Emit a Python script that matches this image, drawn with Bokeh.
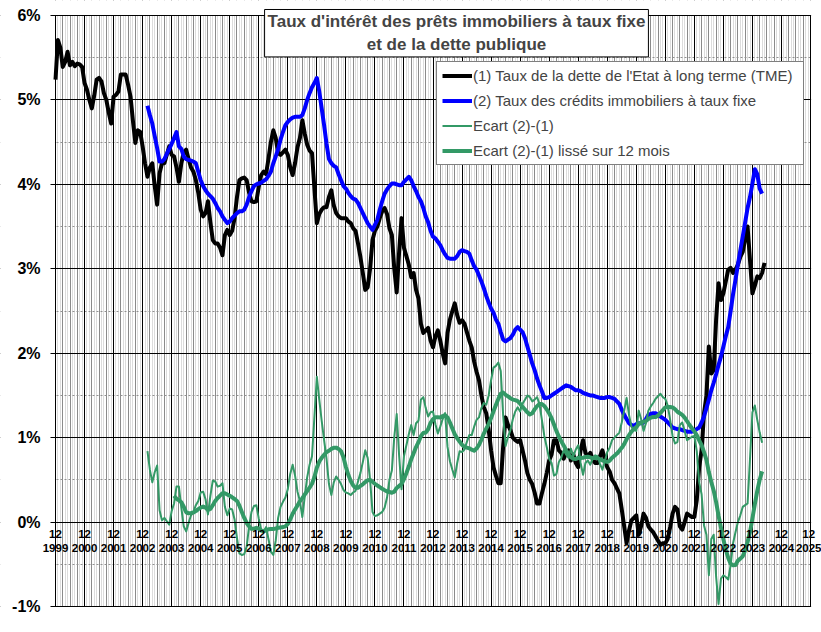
import pandas as pd
from bokeh.plotting import figure
from bokeh.models import (FixedTicker, Grid, Legend, LegendItem, Label, BoxAnnotation,
                          CustomJSTickFormatter)
from bokeh.embed import file_html
from bokeh.resources import INLINE

# ---------------- data (monthly, month index 0 = Dec 1999) ----------------
years = list(range(1999, 2026))
tick_month = ["12"] * len(years)

TME_START = 0      # Dec 1999
tme = [
    5.24,
    5.71, 5.62, 5.39, 5.45, 5.57, 5.41, 5.45, 5.40, 5.43, 5.42, 5.39, 5.20,  # 2000
    5.12, 5.00, 4.90, 5.05, 5.24, 5.26, 5.22, 5.08, 5.00, 4.85, 4.72, 5.04,  # 2001
    5.06, 5.10, 5.30, 5.30, 5.30, 5.18, 5.04, 4.75, 4.49, 4.64, 4.62, 4.45,  # 2002
    4.25, 4.09, 4.20, 4.25, 3.98, 3.76, 4.13, 4.25, 4.25, 4.35, 4.45, 4.35,  # 2003
    4.33, 4.20, 4.03, 4.25, 4.38, 4.41, 4.30, 4.20, 4.15, 4.05, 3.90, 3.70,  # 2004
    3.62, 3.66, 3.80, 3.55, 3.34, 3.30, 3.30, 3.25, 3.16, 3.40, 3.46, 3.40,  # 2005
    3.45, 3.60, 3.85, 4.05, 4.07, 4.08, 4.05, 3.90, 3.80, 3.79, 3.80, 3.97,  # 2006
    4.11, 4.15, 4.12, 4.30, 4.50, 4.64, 4.55, 4.37, 4.35, 4.38, 4.41, 4.35,  # 2007
    4.20, 4.11, 4.25, 4.44, 4.55, 4.76, 4.60, 4.47, 4.40, 4.37, 3.95, 3.54,  # 2008
    3.65, 3.70, 3.73, 3.73, 3.85, 3.93, 3.75, 3.66, 3.62, 3.60, 3.60, 3.60,  # 2009
    3.56, 3.54, 3.48, 3.45, 3.30, 3.14, 2.95, 2.75, 2.78, 3.00, 3.34, 3.45,  # 2010
    3.50, 3.60, 3.68, 3.72, 3.65, 3.48, 3.40, 3.00, 2.72, 3.20, 3.60, 3.25,  # 2011
    3.15, 3.05, 2.90, 2.95, 2.75, 2.65, 2.35, 2.24, 2.27, 2.30, 2.15, 2.07,  # 2012
    2.20, 2.27, 2.15, 2.00, 1.88, 2.24, 2.40, 2.50, 2.59, 2.45, 2.36, 2.39,  # 2013
    2.35, 2.25, 2.15, 2.07, 1.90, 1.78, 1.68, 1.50, 1.36, 1.29, 1.10, 0.85,  # 2014
    0.65, 0.55, 0.46, 0.46, 0.90, 1.24, 1.15, 1.09, 1.00, 0.97, 0.95, 0.97,  # 2015
    0.85, 0.73, 0.58, 0.50, 0.45, 0.35, 0.22, 0.22, 0.34, 0.45, 0.58, 0.73,  # 2016
    0.80, 0.97, 0.97, 0.85, 0.82, 0.75, 0.82, 0.85, 0.73, 0.80, 0.70, 0.65,  # 2017
    0.85, 0.97, 0.82, 0.78, 0.82, 0.75, 0.70, 0.70, 0.78, 0.85, 0.75, 0.65,  # 2018
    0.60, 0.50, 0.46, 0.40, 0.34, 0.15, -0.05, -0.25, -0.10, 0.02, 0.05, 0.08,  # 2019
    -0.15, -0.05, 0.10, 0.05, -0.05, -0.09, -0.12, -0.17, -0.22, -0.27, -0.25, -0.25,  # 2020
    -0.20, -0.06, 0.10, 0.18, 0.15, -0.05, -0.09, 0.00, 0.10, 0.08, 0.06, 0.06,  # 2021
    0.26, 0.65, 0.85, 1.29, 1.50, 2.08, 1.76, 1.80, 2.40, 2.83, 2.63, 2.71,  # 2022
    2.85, 2.99, 3.01, 2.95, 2.99, 3.05, 3.14, 3.20, 3.35, 3.50, 3.10, 2.71,  # 2023
    2.80, 2.91, 2.89, 2.95, 3.07,                                            # 2024
]

CREDIT_START = 38  # Feb 2003
credit = [
    4.93, 4.82, 4.72, 4.57, 4.43, 4.27, 4.27, 4.30, 4.36, 4.42, 4.48,        # 2003
    4.55, 4.62, 4.45, 4.42, 4.33, 4.30, 4.29, 4.28, 4.27, 4.25, 4.15, 4.05,  # 2004
    3.98, 3.93, 3.89, 3.86, 3.83, 3.78, 3.72, 3.68, 3.62, 3.58, 3.54, 3.56,  # 2005
    3.60, 3.63, 3.66, 3.68, 3.68, 3.70, 3.76, 3.85, 3.92, 3.98, 4.00, 4.01,  # 2006
    4.02, 4.04, 4.06, 4.10, 4.15, 4.25, 4.33, 4.42, 4.53, 4.62, 4.70, 4.74,  # 2007
    4.77, 4.79, 4.80, 4.80, 4.80, 4.82, 4.90, 5.00, 5.08, 5.15, 5.20, 5.26,  # 2008
    5.10, 4.90, 4.70, 4.48, 4.30, 4.25, 4.22, 4.20, 4.12, 4.05, 3.98, 3.95,  # 2009
    3.90, 3.86, 3.83, 3.82, 3.78, 3.72, 3.66, 3.60, 3.54, 3.50, 3.46, 3.52,  # 2010
    3.58, 3.70, 3.80, 3.89, 3.94, 3.98, 4.01, 4.01, 4.00, 3.99, 3.99, 4.03,  # 2011
    4.06, 4.09, 4.05, 3.98, 3.92, 3.85, 3.80, 3.72, 3.62, 3.55, 3.45, 3.38,  # 2012
    3.36, 3.32, 3.28, 3.22, 3.17, 3.13, 3.12, 3.12, 3.12, 3.15, 3.20, 3.22,  # 2013
    3.21, 3.20, 3.18, 3.10, 3.03, 2.99, 2.92, 2.85, 2.77, 2.68, 2.60, 2.53,  # 2014
    2.48, 2.40, 2.35, 2.25, 2.16, 2.14, 2.16, 2.18, 2.22, 2.28, 2.31, 2.28,  # 2015
    2.25, 2.18, 2.08, 1.98, 1.88, 1.80, 1.70, 1.62, 1.55, 1.47, 1.47, 1.48,  # 2016
    1.50, 1.52, 1.54, 1.56, 1.58, 1.60, 1.62, 1.61, 1.60, 1.58, 1.56, 1.56,  # 2017
    1.55, 1.53, 1.52, 1.51, 1.50, 1.50, 1.49, 1.48, 1.47, 1.47, 1.47, 1.48,  # 2018
    1.48, 1.47, 1.46, 1.43, 1.40, 1.33, 1.27, 1.22, 1.17, 1.15, 1.14, 1.16,  # 2019
    1.17, 1.17, 1.18, 1.22, 1.27, 1.28, 1.29, 1.29, 1.27, 1.25, 1.23, 1.21,  # 2020
    1.18, 1.15, 1.12, 1.11, 1.10, 1.10, 1.09, 1.08, 1.07, 1.07, 1.07, 1.08,  # 2021
    1.10, 1.12, 1.18, 1.25, 1.35, 1.45, 1.56, 1.65, 1.75, 1.86, 1.96, 2.08,  # 2022
    2.20, 2.31, 2.50, 2.70, 2.87, 3.05, 3.22, 3.38, 3.55, 3.72, 3.85, 4.01,  # 2023
    4.18, 4.12, 3.95, 3.89,                                                  # 2024
]

labels = [
    "(1) Taux de la dette de l'Etat à long terme (TME)",
    "(2) Taux des crédits immobiliers à taux fixe",
    "Ecart (2)-(1)",
    "Ecart (2)-(1) lissé sur 12 mois",
]
title_text = "Taux d'intérêt des prêts immobiliers à taux fixe\net de la dette publique"
y_ticks = list(range(-1, 7))

# ---------------- derived series (as defined by the legend) ----------------
s_tme = pd.Series(tme, index=range(TME_START, TME_START + len(tme)))
s_cr = pd.Series(credit, index=range(CREDIT_START, CREDIT_START + len(credit)))
ecart = (s_cr - s_tme.reindex(s_cr.index)).dropna()
lisse = ecart.rolling(12).mean().dropna()

n_months = (years[-1] - years[0]) * 12

# ---------------- geometry (pixels of the 821x632 page) ----------------
W, H = 821, 632
X0 = 55            # pixel of Dec 1999
PLOT_W = 755       # pixels from Dec 1999 to Dec 2025
Y_BOTTOM = 606     # pixel of -1 %
ppm = PLOT_W / n_months
ppu = 591 / 7.0
ymin, ymax = y_ticks[0], y_ticks[-1]

def tx(px):
    return (px - X0) / ppm

def vy(py):
    return ymin + (Y_BOTTOM - py) / ppu

FONT = "Liberation Sans"
p = figure(width=W, height=H, x_range=(tx(0), tx(W)), y_range=(vy(H), vy(0)),
           output_backend="svg", toolbar_location=None,
           min_border=0, min_border_left=0, min_border_right=0,
           min_border_top=0, min_border_bottom=0)
for g in p.grid:
    g.visible = False
p.outline_line_color = None
p.background_fill_color = "white"
p.border_fill_color = "white"

# grids
p.add_layout(Grid(dimension=0, ticker=FixedTicker(ticks=[m for m in range(n_months + 1) if m % 3 != 0]),
                  grid_line_color="#b8b8b8", grid_line_dash="1 1"))
p.add_layout(Grid(dimension=0, ticker=FixedTicker(ticks=[m for m in range(0, n_months + 1, 3) if m % 12 != 0]),
                  grid_line_color="#8a8a8a"))
p.add_layout(Grid(dimension=1, ticker=FixedTicker(ticks=[v + 0.5 for v in y_ticks[:-1]]),
                  grid_line_color="#909090", grid_line_dash="2 2"))
p.add_layout(Grid(dimension=0, ticker=FixedTicker(ticks=list(range(0, n_months + 1, 12))),
                  grid_line_color="black"))
p.add_layout(Grid(dimension=1, ticker=FixedTicker(ticks=y_ticks),
                  grid_line_color="black"))
# blank margins around the plotting area (drawn over the grid only)
eps_x, eps_y = 0.6 / ppm, 0.6 / ppu
for kw in (dict(right=0 - eps_x), dict(left=n_months + eps_x),
           dict(bottom=ymax + eps_y), dict(top=ymin - eps_y)):
    p.add_layout(BoxAnnotation(fill_color="white", fill_alpha=1, line_color=None,
                               level="underlay", **kw))

# y axis on the Dec 1999 line
ya = p.yaxis[0]
ya.fixed_location = 0
ya.bounds = (ymin, ymax)
ya.ticker = FixedTicker(ticks=y_ticks)
ya.formatter = CustomJSTickFormatter(code="return tick + '%';")
ya.major_label_text_font = FONT
ya.major_label_text_font_style = "bold"
ya.major_label_text_font_size = "16px"
ya.major_label_text_color = "black"
ya.major_tick_out = 5
ya.major_tick_in = 0
ya.minor_tick_out = 0
ya.minor_tick_in = 0
ya.major_label_standoff = 10
ya.axis_line_color = "black"
ya.major_tick_line_color = "black"

# x axis drawn on the 0 % line
xa = p.xaxis[0]
xa.fixed_location = 0
xa.bounds = (0, n_months)
x_ticks = [12 * i for i in range(len(years))]
xa.ticker = FixedTicker(ticks=x_ticks)
xa.major_label_overrides = {t: f"{m}\n{y}" for t, m, y in zip(x_ticks, tick_month, years)}
xa.major_label_text_font = FONT
xa.major_label_text_font_style = "bold"
xa.major_label_text_font_size = "11.5px"
xa.major_label_text_color = "black"
xa.major_label_text_line_height = 1.15
xa.major_tick_out = 0
xa.major_tick_in = 0
xa.minor_tick_out = 0
xa.minor_tick_in = 0
xa.major_label_standoff = 6
xa.axis_line_color = "black"

# series
GREEN = "#339966"
r1 = p.line(list(s_tme.index), list(s_tme.values), color="black", line_width=4, line_join="round")
r2 = p.line(list(s_cr.index), list(s_cr.values), color="#0000ff", line_width=4, line_join="round")
r3 = p.line(list(ecart.index), list(ecart.values), color=GREEN, line_width=2, line_join="round")
r4 = p.line(list(lisse.index), list(lisse.values), color=GREEN, line_width=4, line_join="round")

# title box
p.add_layout(Label(x=tx(456), y=vy(32.7), text=title_text,
                   text_align="center", text_baseline="middle", text_font=FONT,
                   text_font_style="bold", text_font_size="17px", text_line_height=1.18,
                   background_fill_color="white", border_line_color="black",
                   border_line_width=1, padding=3))

# legend (location in pixels from the frame's bottom-left corner)
legend = Legend(items=[LegendItem(label=labels[0], renderers=[r1]),
                       LegendItem(label=labels[1], renderers=[r2]),
                       LegendItem(label=labels[2], renderers=[r3]),
                       LegendItem(label=labels[3], renderers=[r4])],
                location=(436, H - 165), glyph_width=30, glyph_height=17, label_height=17,
                label_width=325, spacing=8, padding=5, margin=0, label_standoff=1,
                label_text_font=FONT, label_text_font_size="15px",
                border_line_color="black", border_line_width=1,
                background_fill_color="white", background_fill_alpha=1)
p.add_layout(legend)

open("out.html", "w").write(file_html(p, INLINE))
